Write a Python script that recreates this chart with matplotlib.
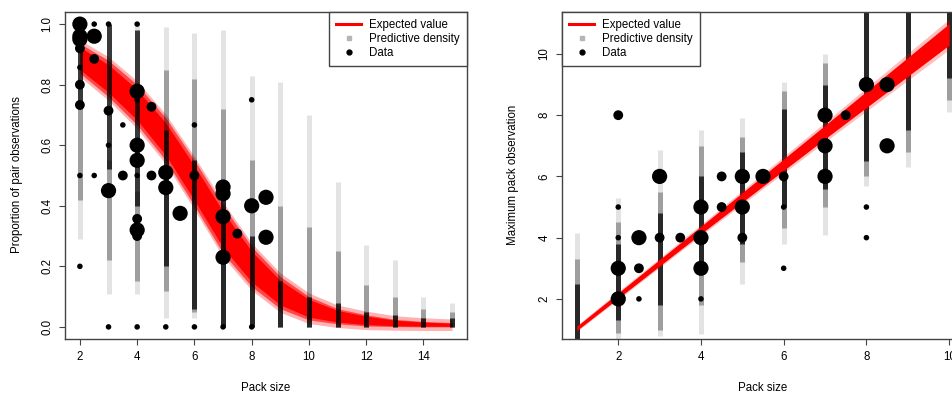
import matplotlib
matplotlib.use("Agg")
import matplotlib.pyplot as plt
from matplotlib.lines import Line2D
import numpy as np

plt.rcParams['font.family'] = ['Liberation Sans', 'DejaVu Sans']
plt.rcParams['font.size'] = 8.3

# ---- left panel: proportion of pair observations ----
band_x = [2, 3, 4, 5, 6, 7, 8, 9, 10, 11, 12, 13, 14, 15]
band_hi = [0.936, 0.88, 0.80, 0.69, 0.55, 0.40, 0.265, 0.166, 0.10, 0.06, 0.04, 0.025, 0.018, 0.014]
band_lo = [0.838, 0.76, 0.667, 0.55, 0.40, 0.243, 0.133, 0.06, 0.023, 0.01, 0.003, 0.001, 0.0, 0.0]

col_x = [2, 3, 4, 5, 6, 7, 8, 9, 10, 11, 12, 13, 14, 15]
sparse_lo = [0.29, 0.11, 0.11, 0.03, 0.03, 0.0, 0.0, 0.0, 0.0, 0.0, 0.0, 0.0, 0.0, 0.0]
sparse_hi = [1.0, 1.0, 1.0, 0.99, 0.97, 0.98, 0.83, 0.81, 0.70, 0.48, 0.27, 0.22, 0.10, 0.08]
mid_lo = [0.42, 0.22, 0.15, 0.12, 0.05, 0.0, 0.0, 0.0, 0.0, 0.0, 0.0, 0.0, 0.0, 0.0]
mid_hi = [0.72, 0.55, 0.45, 0.85, 0.82, 0.72, 0.55, 0.40, 0.33, 0.25, 0.14, 0.10, 0.06, 0.05]
dense_lo = [0.72, 0.52, 0.40, 0.20, 0.06, 0.0, 0.0, 0.0, 0.0, 0.0, 0.0, 0.0, 0.0, 0.0]
dense_hi = [1.0, 1.0, 0.98, 0.65, 0.55, 0.45, 0.30, 0.15, 0.10, 0.08, 0.05, 0.04, 0.03, 0.03]

dot_x = [2, 2, 2, 2, 2, 2, 2, 2, 2,
         2.5, 2.5, 2.5, 2.5,
         3, 3, 3, 3, 3,
         3.5, 3.5,
         4, 4, 4, 4, 4, 4, 4, 4, 4, 4,
         4.5, 4.5,
         5, 5, 5,
         5.5,
         6, 6, 6,
         7, 7, 7, 7, 7,
         7.5,
         8, 8, 8,
         8.5, 8.5]
dot_y = [1.0, 0.96, 0.95, 0.92, 0.857, 0.8, 0.733, 0.5, 0.2,
         1.0, 0.96, 0.885, 0.5,
         1.0, 0.714, 0.6, 0.45, 0.0,
         0.667, 0.5,
         1.0, 0.778, 0.75, 0.6, 0.55, 0.5, 0.357, 0.32, 0.3, 0.0,
         0.727, 0.5,
         0.51, 0.46, 0.0,
         0.375,
         0.667, 0.5, 0.0,
         0.462, 0.44, 0.364, 0.23, 0.0,
         0.308,
         0.75, 0.4, 0.0,
         0.428, 0.296]
dot_n = [3, 3, 3, 2, 1, 2, 2, 1, 1,
         1, 3, 2, 1,
         1, 2, 1, 3, 1,
         1, 2,
         1, 3, 1, 3, 3, 1, 2, 3, 2, 1,
         2, 2,
         3, 3, 1,
         3,
         1, 2, 1,
         3, 3, 3, 3, 1,
         2,
         1, 3, 1,
         3, 3]

# ---- right panel: maximum pack observation ----
rband_x = [1, 4, 7, 10]
rband_mid = [1.04, 4.25, 7.45, 10.64]
rband_core = [0.07, 0.12, 0.22, 0.35]
rband_fringe = [0.10, 0.18, 0.32, 0.50]

rcol_x = [1, 2, 3, 4, 5, 6, 7, 8, 9, 10]
rsparse_lo = [0.7, 0.7, 0.8, 0.85, 2.5, 3.8, 4.1, 5.7, 6.3, 8.1]
rsparse_hi = [4.15, 5.3, 6.86, 7.5, 7.9, 9.1, 10.0, 11.4, 11.4, 11.4]
rmid_lo = [0.7, 0.9, 1.0, 1.8, 3.2, 4.3, 5.0, 6.0, 6.8, 8.5]
rmid_hi = [3.3, 4.5, 5.5, 7.0, 7.3, 8.8, 9.7, 11.4, 11.4, 11.4]
rdense_lo = [0.7, 1.3, 1.8, 2.8, 3.8, 5.0, 5.6, 6.5, 7.5, 9.2]
rdense_hi = [2.5, 3.8, 4.8, 6.0, 6.8, 8.2, 9.0, 11.4, 11.4, 11.4]

rdot_x = [2, 2, 2, 2, 2,
          2.5, 2.5, 2.5,
          3, 3,
          3.5,
          4, 4, 4, 4,
          4.5, 4.5,
          5, 5, 5,
          5.5,
          6, 6, 6,
          7, 7, 7,
          7.5,
          8, 8, 8,
          8.5, 8.5]
rdot_y = [8, 5, 4, 3, 2,
          4, 3, 2,
          6, 4,
          4,
          5, 4, 3, 2,
          6, 5,
          6, 5, 4,
          6,
          6, 5, 3,
          8, 7, 6,
          8,
          9, 5, 4,
          9, 7]
rdot_n = [2, 1, 1, 3, 3,
          3, 2, 1,
          3, 2,
          2,
          3, 3, 3, 1,
          2, 2,
          3, 3, 2,
          3,
          2, 1, 1,
          3, 3, 3,
          2,
          3, 1, 1,
          3, 3]

size_map = {1: 16, 2: 50, 3: 120}
col_lw = 3.6


def draw_columns(ax, xs, slo, shi, mlo, mhi, dlo, dhi, z):
    ax.vlines(xs, slo, shi, colors='black', alpha=0.11, lw=col_lw, zorder=z)
    ax.vlines(xs, mlo, mhi, colors='black', alpha=0.3, lw=col_lw, zorder=z)
    ax.vlines(xs, dlo, dhi, colors='black', alpha=0.75, lw=col_lw, zorder=z)


def style_axes(ax):
    for s in ax.spines.values():
        s.set_color('#444444')
        s.set_linewidth(1.0)
    ax.tick_params(direction='out', length=4.3, width=0.8, color='#444444',
                   labelsize=8.3, pad=4)
    for lab in ax.get_yticklabels():
        lab.set_rotation(90)
        lab.set_va('center')


def add_legend(ax, loc):
    handles = [Line2D([], [], color='red', lw=2.2),
               Line2D([], [], ls='', marker='s', ms=3.2, color='#b5b5b5'),
               Line2D([], [], ls='', marker='o', ms=3.5, color='black')]
    leg = ax.legend(handles, ['Expected value', 'Predictive density', 'Data'],
                    loc=loc, borderaxespad=0, fancybox=False, framealpha=1,
                    edgecolor='#444444', fontsize=8.3, handlelength=2.2,
                    labelspacing=0.18, borderpad=0.6, handletextpad=0.7)
    leg.get_frame().set_linewidth(1.0)
    leg.set_zorder(10)


fig = plt.figure(figsize=(9.53, 3.96), dpi=100)
ax1 = fig.add_axes([65 / 953, 57 / 396, 402 / 953, 327 / 396])
ax2 = fig.add_axes([562 / 953, 57 / 396, 402 / 953, 327 / 396])

# left
bx = np.array(band_x)
bhi = np.array(band_hi)
blo = np.array(band_lo)
pad = 0.012
ax1.fill_between(bx, blo - pad, bhi + pad, color='red', alpha=0.3, lw=0, zorder=1)
ax1.fill_between(bx, blo + 0.12 * (bhi - blo), bhi - 0.12 * (bhi - blo),
                 color='red', lw=0, zorder=1)
ax1.fill_between(bx, blo, bhi, color='red', alpha=0.6, lw=0, zorder=1)
draw_columns(ax1, col_x, sparse_lo, sparse_hi, mid_lo, mid_hi, dense_lo, dense_hi, 2)
ax1.scatter(dot_x, dot_y, s=[size_map[n] for n in dot_n], color='black', lw=0, zorder=3)
ax1.set_xlim(1.48, 15.52)
ax1.set_ylim(-0.04, 1.04)
ax1.set_xticks([2, 4, 6, 8, 10, 12, 14])
ax1.set_yticks([0.0, 0.2, 0.4, 0.6, 0.8, 1.0])
ax1.set_yticklabels(['0.0', '0.2', '0.4', '0.6', '0.8', '1.0'])
style_axes(ax1)
add_legend(ax1, 'upper right')
fig.text(17 / 953, 1 - 175 / 396, 'Proportion of pair observations', rotation=90,
         ha='center', va='center', fontsize=8.3)
fig.text(266 / 953, 1 - 388 / 396, 'Pack size', ha='center', va='center', fontsize=8.3)

# right
draw_columns(ax2, rcol_x, rsparse_lo, rsparse_hi, rmid_lo, rmid_hi, rdense_lo, rdense_hi, 1)
rx = np.array(rband_x)
rm = np.array(rband_mid)
rc = np.array(rband_core)
rf = np.array(rband_fringe)
ax2.fill_between(rx, rm - rf, rm + rf, color='red', alpha=0.25, lw=0, zorder=2)
ax2.fill_between(rx, rm - rc, rm + rc, color='red', lw=0, zorder=2)
ax2.scatter(rdot_x, rdot_y, s=[size_map[n] for n in rdot_n], color='black', lw=0, zorder=3)
ax2.set_xlim(0.64, 10.36)
ax2.set_ylim(0.69, 11.37)
ax2.set_xticks([2, 4, 6, 8, 10])
ax2.set_yticks([2, 4, 6, 8, 10])
style_axes(ax2)
add_legend(ax2, 'upper left')
fig.text(513 / 953, 1 - 175 / 396, 'Maximum pack observation', rotation=90,
         ha='center', va='center', fontsize=8.3)
fig.text(763 / 953, 1 - 388 / 396, 'Pack size', ha='center', va='center', fontsize=8.3)

fig.savefig('out.png', dpi=100)
